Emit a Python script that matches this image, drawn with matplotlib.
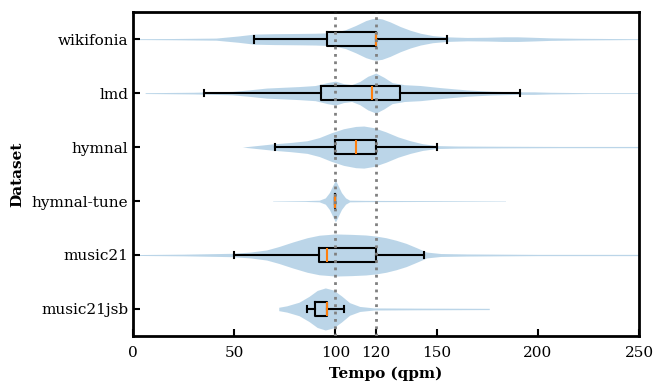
import matplotlib
matplotlib.use("Agg")
import matplotlib.pyplot as plt
import numpy as np

plt.rcParams['font.family'] = ['DejaVu Serif']

datasets = ["wikifonia", "lmd", "hymnal", "hymnal-tune", "music21", "music21jsb"]

# box stats (qpm): whislo, q1, med, q3, whishi
whislo = [60, 35, 70, 100, 50, 86]
q1s = [96, 93, 100, 100, 92, 90]
meds = [120, 118, 110, 100, 96, 96]
q3s = [120, 132, 120, 100, 120, 96]
whishi = [155, 191, 150, 100, 144, 104]

# violin outlines: tempo -> relative half width (peak = 1)
wiki_t = [0, 20, 41, 52, 60, 70, 82, 90, 96, 101, 105, 110, 115, 118, 120, 123, 127, 132, 137, 142, 148, 155, 165, 175, 183, 190, 197, 206, 220, 235, 250]
wiki_w = [0.02, 0.03, 0.05, 0.15, 0.24, 0.26, 0.27, 0.28, 0.30, 0.36, 0.45, 0.65, 0.88, 0.97, 1.0, 0.96, 0.82, 0.6, 0.42, 0.28, 0.17, 0.11, 0.08, 0.09, 0.11, 0.11, 0.09, 0.06, 0.04, 0.03, 0.02]
lmd_t = [6, 30, 49, 58, 66, 75, 82, 90, 96, 100, 104, 108, 112, 116, 120, 124, 128, 134, 142, 152, 165, 177, 189, 198, 206, 225, 250]
lmd_w = [0.02, 0.04, 0.08, 0.16, 0.24, 0.28, 0.31, 0.36, 0.5, 0.57, 0.45, 0.4, 0.55, 0.8, 0.95, 0.75, 0.5, 0.4, 0.36, 0.26, 0.15, 0.09, 0.06, 0.06, 0.04, 0.02, 0.02]
hym_t = [54, 62, 69, 78, 86, 92, 98, 104, 110, 114, 119, 125, 131, 137, 143, 150, 160, 180, 210, 250]
hym_w = [0.0, 0.08, 0.15, 0.22, 0.3, 0.45, 0.68, 0.87, 0.98, 1.0, 0.92, 0.72, 0.48, 0.3, 0.16, 0.07, 0.05, 0.04, 0.03, 0.03]
tune_t = [69, 85, 92, 95, 97, 99, 100, 101, 103, 105, 107, 115, 148, 184]
tune_w = [0.01, 0.02, 0.04, 0.15, 0.4, 0.8, 1.0, 0.8, 0.4, 0.15, 0.04, 0.03, 0.02, 0.01]
m21_t = [0, 25, 49, 58, 66, 72, 79, 86, 92, 100, 108, 115, 120, 125, 130, 135, 140, 145, 152, 165, 200, 250]
m21_w = [0.02, 0.04, 0.08, 0.14, 0.24, 0.4, 0.62, 0.82, 0.94, 1.0, 0.98, 0.95, 0.9, 0.82, 0.7, 0.55, 0.35, 0.14, 0.07, 0.05, 0.03, 0.03]
jsb_t = [72, 76, 82, 87, 91, 95, 99, 103, 107, 112, 119, 140, 176]
jsb_w = [0.08, 0.15, 0.32, 0.6, 0.88, 1.0, 0.9, 0.62, 0.3, 0.12, 0.05, 0.04, 0.03]

profiles = [(wiki_t, wiki_w), (lmd_t, lmd_w), (hym_t, hym_w),
            (tune_t, tune_w), (m21_t, m21_w), (jsb_t, jsb_w)]

fig = plt.figure(figsize=(6.65, 3.92), dpi=100)
ax = fig.add_axes([0.2, 0.143, 0.761, 0.826])

positions = np.arange(1, len(datasets) + 1)
half = 0.39

for pos, (t, w) in zip(positions, profiles):
    t = np.array(t, dtype=float)
    w = np.array(w) * half
    ax.fill_between(t, pos - w, pos + w, color='#1f77b4', alpha=0.3, lw=0, zorder=1)

stats = []
for i, name in enumerate(datasets):
    stats.append({"label": name, "whislo": whislo[i], "q1": q1s[i], "med": meds[i],
                  "q3": q3s[i], "whishi": whishi[i], "fliers": []})

ax.bxp(stats, positions=positions, widths=0.25, orientation='horizontal',
       showfliers=False, manage_ticks=False,
       boxprops=dict(color='black', lw=1.5),
       whiskerprops=dict(color='black', lw=1.5),
       capprops=dict(color='black', lw=1.5),
       medianprops=dict(color='#ff7f0e', lw=1.5))

for v in [100, 120]:
    ax.axvline(v, color='gray', ls=':', lw=2, zorder=5)

ax.set_xlim(0, 250)
ax.set_ylim(6.5, 0.5)
ax.set_xticks([0, 50, 100, 120, 150, 200, 250])
ax.set_yticks(positions)
ax.set_yticklabels(datasets)
ax.tick_params(direction='in', length=5, width=1.5, labelsize=11)
ax.tick_params(axis='x', pad=7)
for s in ax.spines.values():
    s.set_linewidth(2)

ax.set_xlabel("Tempo (qpm)", fontweight='bold', fontsize=11, labelpad=5)
ax.set_ylabel("Dataset", fontweight='bold', fontsize=11, labelpad=5)

fig.savefig("out.png", dpi=100)
